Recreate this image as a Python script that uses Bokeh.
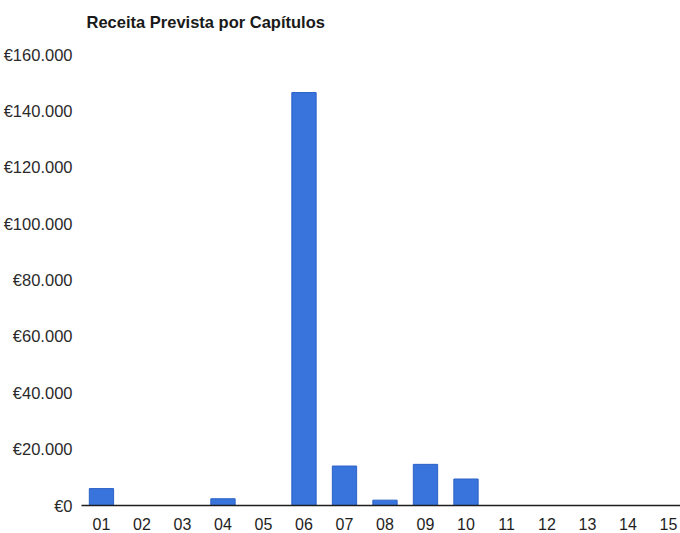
from bokeh.plotting import figure
from bokeh.models import Range1d, FixedTicker
from bokeh.embed import file_html
from bokeh.resources import INLINE

# Data
categories = ["01", "02", "03", "04", "05", "06", "07", "08", "09", "10", "11", "12", "13", "14", "15"]
values = [6000, 0, 0, 2400, 0, 146500, 14000, 1900, 14600, 9400, 0, 0, 0, 0, 0]
y_ticks = [0, 20000, 40000, 60000, 80000, 100000, 120000, 140000, 160000]
y_tick_labels = ["€0", "€20.000", "€40.000", "€60.000", "€80.000", "€100.000", "€120.000", "€140.000", "€160.000"]
title_text = "Receita Prevista por Capítulos"

positions = list(range(1, len(categories) + 1))

FONT = "Liberation Sans"

# frame from y=39 to y=505 (466 px); the 160.000 tick sits 451 px above the baseline
y_top = y_ticks[-1] * 466 / 451

p = figure(width=680, height=533, output_backend="svg", toolbar_location=None,
           x_range=Range1d(0.507, 15.296), y_range=Range1d(0, y_top),
           min_border_left=80, min_border_right=0, min_border_top=39, min_border_bottom=28,
           title=title_text)

p.title.text_font = FONT
p.title.text_font_size = "16.5px"
p.title.text_font_style = "bold"
p.title.text_color = "#1a1a1a"
p.title.offset = 5
p.title.standoff = 17

p.vbar(x=positions, top=values, width=0.6, bottom=0,
       fill_color="#3874dc", line_color="#2c62c6", line_width=1)

p.outline_line_color = None
p.background_fill_color = "white"
p.border_fill_color = "white"
p.grid.grid_line_color = None

xa = p.xaxis[0]
xa.ticker = FixedTicker(ticks=positions)
xa.major_label_overrides = {pos: lab for pos, lab in zip(positions, categories)}
xa.major_tick_line_color = None
xa.minor_tick_line_color = None
xa.axis_line_color = "#1e1e1e"
xa.axis_line_width = 1.6
xa.major_label_text_font = FONT
xa.major_label_text_font_size = "16px"
xa.major_label_text_color = "#1e1e1e"
xa.major_label_standoff = 6

ya = p.yaxis[0]
ya.ticker = FixedTicker(ticks=y_ticks)
ya.major_label_overrides = {t: lab for t, lab in zip(y_ticks, y_tick_labels)}
ya.axis_line_color = None
ya.major_tick_line_color = None
ya.minor_tick_line_color = None
ya.major_label_text_font = FONT
ya.major_label_text_font_size = "16.5px"
ya.major_label_text_color = "#2a2a2a"
ya.major_label_standoff = 3

open("out.html", "w").write(file_html(p, INLINE))
